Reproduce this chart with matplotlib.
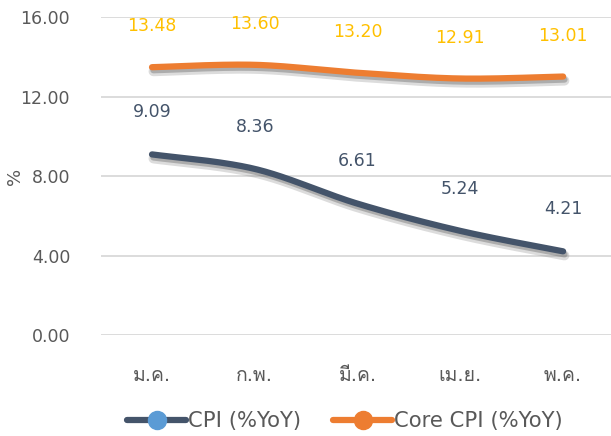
import numpy as np
import matplotlib
matplotlib.use('Agg')
import matplotlib.pyplot as plt
import matplotlib.patheffects as pe
from matplotlib import font_manager
from matplotlib.ft2font import FT2Font

months = ['ม.ค.', 'ก.พ.', 'มี.ค.', 'เม.ย.', 'พ.ค.']
cpi = [9.09, 8.36, 6.61, 5.24, 4.21]
core_cpi = [13.48, 13.60, 13.20, 12.91, 13.01]
y_ticks = [0, 4, 8, 12, 16]


def find_thai_family():
    for f in font_manager.fontManager.ttflist:
        try:
            if FT2Font(f.fname).get_char_index(0x0E21):
                return f.name
        except Exception:
            pass
    return None


thai = find_thai_family()
families = ['DejaVu Sans'] + ([thai] if thai else [])
plt.rcParams['font.family'] = families


def smooth(xs, ys, n=40):
    # catmull-rom style bezier, similar to excel's smoothed line
    xs = np.asarray(xs, float)
    ys = np.asarray(ys, float)
    px, py = [], []
    for i in range(len(xs) - 1):
        x0, y0 = (xs[i - 1], ys[i - 1]) if i > 0 else (xs[i], ys[i])
        x3, y3 = (xs[i + 2], ys[i + 2]) if i + 2 < len(xs) else (xs[i + 1], ys[i + 1])
        x1, y1, x2, y2 = xs[i], ys[i], xs[i + 1], ys[i + 1]
        c1 = (x1 + (x2 - x0) / 6, y1 + (y2 - y0) / 6)
        c2 = (x2 - (x3 - x1) / 6, y2 - (y3 - y1) / 6)
        t = np.linspace(0, 1, n)
        bx = (1 - t) ** 3 * x1 + 3 * (1 - t) ** 2 * t * c1[0] + 3 * (1 - t) * t ** 2 * c2[0] + t ** 3 * x2
        by = (1 - t) ** 3 * y1 + 3 * (1 - t) ** 2 * t * c1[1] + 3 * (1 - t) * t ** 2 * c2[1] + t ** 3 * y2
        px.extend(bx)
        py.extend(by)
    return np.array(px), np.array(py)


fig = plt.figure(figsize=(6.11, 4.36), dpi=100)
ax = fig.add_axes([0.1647, 0.2317, 0.841, 0.729])

x = np.arange(len(months))
# soft drop shadow under the lines
shadow = [pe.SimpleLineShadow(offset=(1.0, -3.0), shadow_color='0.55', alpha=0.3, linewidth=7),
          pe.SimpleLineShadow(offset=(1.0, -2.2), shadow_color='0.4', alpha=0.4),
          pe.Normal()]

sx, sy = smooth(x, cpi)
ax.plot(sx, sy, color='#44546A', lw=4.5, solid_capstyle='round', path_effects=shadow, zorder=3)
sx, sy = smooth(x, core_cpi)
ax.plot(sx, sy, color='#ED7D31', lw=4.5, solid_capstyle='round', path_effects=shadow, zorder=3)

for xi, v in zip(x, cpi):
    ax.annotate(f'{v:.2f}', (xi, v), xytext=(0, 30.5), textcoords='offset points',
                ha='center', va='center', color='#44546A', fontsize=12.5)
for xi, v in zip(x, core_cpi):
    ax.annotate(f'{v:.2f}', (xi, v), xytext=(0, 29.5), textcoords='offset points',
                ha='center', va='center', color='#FFC000', fontsize=12.5)

ax.set_xlim(-0.5, len(months) - 0.5)
ax.set_ylim(0, 16)
ax.set_yticks(y_ticks)
ax.set_yticklabels([f'{v:.2f}' for v in y_ticks])
ax.set_xticks(x)
ax.set_xticklabels(months, fontsize=14)
ax.tick_params(axis='both', length=0, colors='#595959')
ax.tick_params(axis='y', labelsize=12.5, pad=22)
ax.tick_params(axis='x', pad=22)
ax.grid(axis='y', color='#D9D9D9', lw=1.3)
ax.set_axisbelow(True)
for s in ax.spines.values():
    s.set_visible(False)
ax.set_ylabel('%', color='#595959', fontsize=13, va='center')
ax.yaxis.set_label_coords(-0.167, 0.5)

# legend handles: line with lighter marker
h1, = ax.plot([], [], color='#44546A', lw=4.5, marker='o', ms=13, mfc='#5B9BD5', mec='#5B9BD5', solid_capstyle='round')
h2, = ax.plot([], [], color='#ED7D31', lw=4.5, marker='o', ms=13, mfc='#ED7D31', mec='#ED7D31', solid_capstyle='round')
fig.legend([h1, h2], ['CPI (%YoY)', 'Core CPI (%YoY)'], loc='center', bbox_to_anchor=(0.565, 0.034),
           ncol=2, frameon=False, fontsize=15.2, handlelength=2.8, handletextpad=0.1,
           columnspacing=1.5, labelcolor='#595959')

fig.savefig('out.png', dpi=100)
